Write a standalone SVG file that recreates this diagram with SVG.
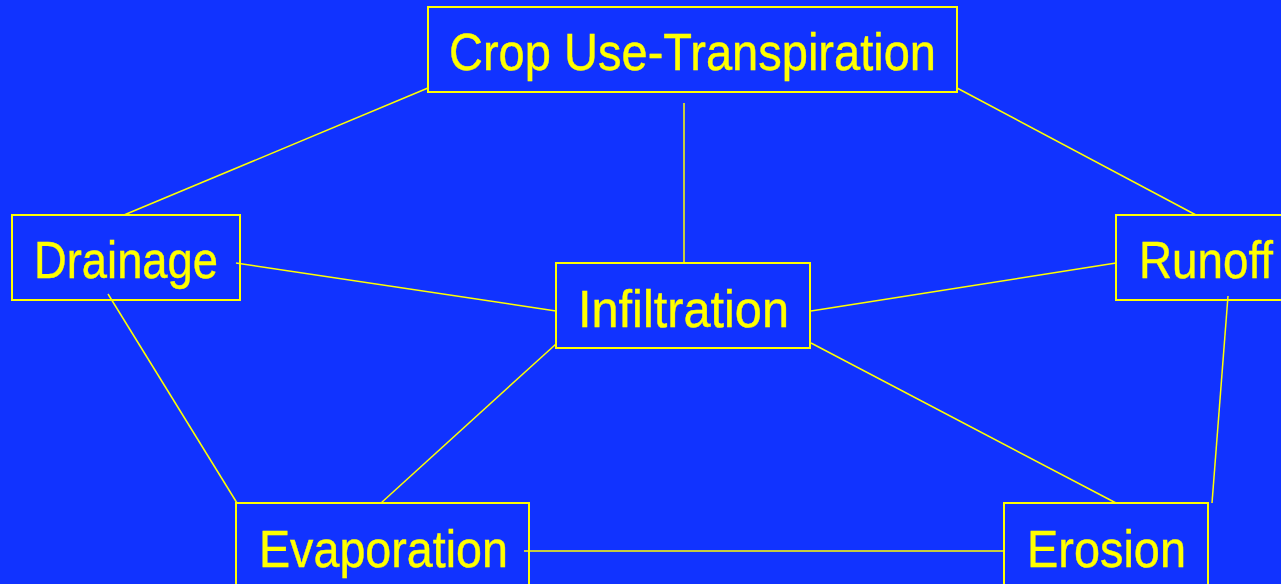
<svg xmlns="http://www.w3.org/2000/svg" width="1281" height="584" viewBox="0 0 1281 584">
<style>
.box{fill:none;stroke:#FFFF00;stroke-width:2}
.lbl{fill:#FFFF00;stroke:#FFFF00;stroke-width:0.4;font-family:"Liberation Sans Narrow","Liberation Sans",Arial,sans-serif;font-size:52px}
.conn line{stroke:#FFFF00;stroke-width:1.5}
</style>
<rect width="1281" height="584" fill="#1133FF"/>
<g class="conn">
<line x1="428" y1="88" x2="124" y2="215"/>
<line x1="957" y1="88" x2="1196" y2="215"/>
<line x1="684" y1="103" x2="684" y2="263"/>
<line x1="236" y1="263" x2="556" y2="311"/>
<line x1="1116" y1="263" x2="811" y2="311"/>
<line x1="108" y1="294" x2="237" y2="503"/>
<line x1="556" y1="344" x2="381" y2="503"/>
<line x1="811" y1="343" x2="1116" y2="503"/>
<line x1="1228" y1="296" x2="1212" y2="503"/>
<line x1="524" y1="551" x2="1004" y2="551"/>
</g>
<g id="crop"><rect class="box" x="428" y="7" width="529" height="85"/><text class="lbl" x="449" y="70" textLength="487" lengthAdjust="spacingAndGlyphs">Crop Use-Transpiration</text></g>
<g id="drainage"><rect class="box" x="12" y="215" width="228" height="85"/><text class="lbl" x="34" y="278" textLength="184" lengthAdjust="spacingAndGlyphs">Drainage</text></g>
<g id="runoff"><rect class="box" x="1116" y="215" width="170" height="85"/><text class="lbl" x="1139" y="278" textLength="134" lengthAdjust="spacingAndGlyphs">Runoff</text></g>
<g id="infiltration"><rect class="box" x="556" y="263" width="254" height="85"/><text class="lbl" x="578" y="327" textLength="211" lengthAdjust="spacingAndGlyphs">Infiltration</text></g>
<g id="evaporation"><rect class="box" x="236" y="503" width="293" height="90"/><text class="lbl" x="259" y="567" textLength="249" lengthAdjust="spacingAndGlyphs">Evaporation</text></g>
<g id="erosion"><rect class="box" x="1004" y="503" width="204" height="90"/><text class="lbl" x="1027" y="567" textLength="159" lengthAdjust="spacingAndGlyphs">Erosion</text></g>
</svg>
